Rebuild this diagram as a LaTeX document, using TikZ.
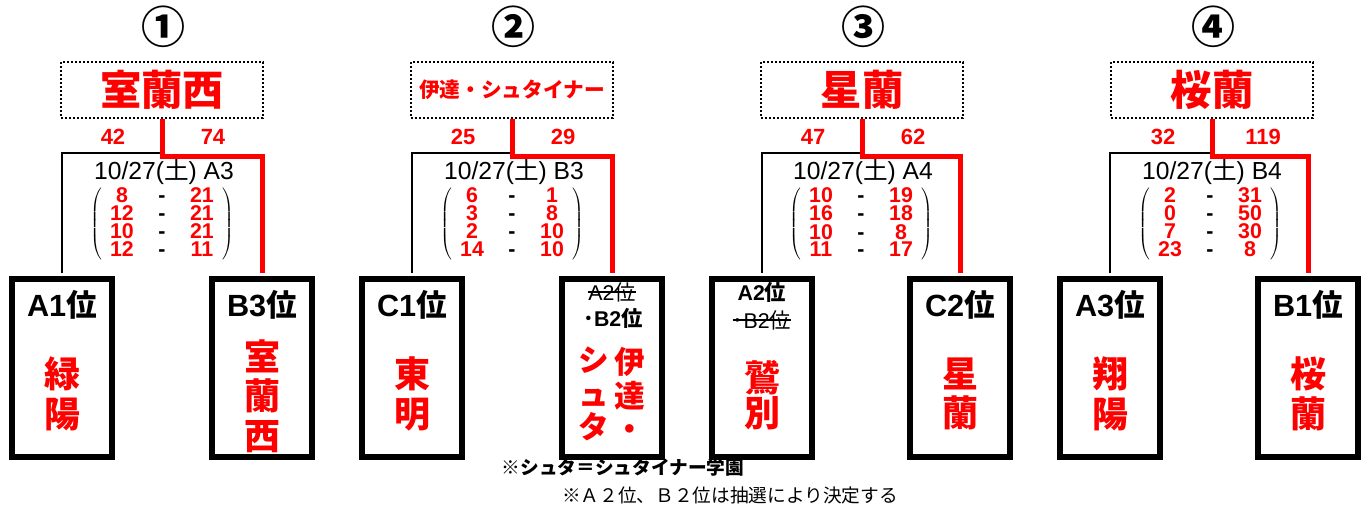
\documentclass[tikz,border=0pt]{standalone}
\usepackage{fontspec}
\usepackage{array}
\setmainfont{Liberation Sans}
\newfontfamily\jpfont{Noto Sans CJK JP}
\definecolor{winred}{RGB}{255,0,0}
\newcolumntype{N}{>{\color{winred}}w{c}{24pt}}
\newcolumntype{H}{w{c}{36pt}}
\newcommand{\games}[1]{$\left(\setlength{\tabcolsep}{0pt}\begin{tabular}{@{\hspace{3pt}}NHN@{\hspace{3pt}}}#1\end{tabular}\right)$}

\begin{document}
\begin{tikzpicture}[x=0.75pt,y=-0.75pt,
    seed/.style={inner sep=0pt,font=\jpfont\bfseries\fontsize{33}{33}\selectfont},
    champ/.style={rectangle,draw=black,line width=1.6pt,dash pattern=on 1.5pt off 1.5pt,minimum width=151.5pt,minimum height=42pt,inner sep=0pt,text=winred,font=\jpfont\bfseries\fontsize{31}{31}\selectfont},
    tally/.style={inner sep=0pt,text=winred,font=\bfseries\fontsize{16.5}{16.5}\selectfont},
    datelabel/.style={inner sep=0pt,font=\fontsize{18.5}{18.5}\selectfont},
    setscores/.style={inner sep=0pt,font=\bfseries\fontsize{16}{8}\selectfont},
    team/.style={rectangle,draw=black,line width=4.5pt,minimum width=75pt,minimum height=133.5pt,inner sep=0pt},
    placelabel/.style={inner sep=0pt,font=\bfseries\fontsize{23}{23}\selectfont},
    placethin/.style={inner sep=0pt,font=\fontsize{16}{16}\selectfont},
    placebold/.style={inner sep=0pt,font=\bfseries\fontsize{16}{16}\selectfont},
    schoolname/.style={inner sep=0pt,align=center,text=winred,font=\jpfont\bfseries\fontsize{27}{29.5}\selectfont},
    win/.style={draw=winred,line width=3.75pt,shorten >=2.2pt},
    lose/.style={draw=black,line width=2pt,shorten <=2.2pt},
    strikeline/.style={draw=black,line width=0.9pt},
    remark/.style={inner sep=0pt,font=\jpfont\fontsize{14}{14}\selectfont}]

      \useasboundingbox (0,0) rectangle (1366,506);

      \node[seed] (s1) at (163,27) {①};
      \node[champ] (c1) at (162,90) {室蘭西};
      \node[tally] (p1l) at (113,137) {42};
      \node[tally] (p1r) at (213,137) {74};
      \node[datelabel] (d1) at (164,172) {10/27({\jpfont 土}) A3};
      \node[setscores] (g1) at (162,224) {\games{8&-&21\\12&-&21\\10&-&21\\12&-&11}};
      \node[team] (t1l) at (62,368) {};
      \node[placelabel] (r1l) at (62,305) {A1{\jpfont 位}};
      \node[schoolname] (n1l) at (62,394) {緑\\陽};
      \node[team] (t1r) at (262,368) {};
      \node[placelabel] (r1r) at (262,305) {B3{\jpfont 位}};
      \node[schoolname] (n1r) at (262,396) {室\\蘭\\西};
      \coordinate (j1) at (162,153);

      \draw[lose] (t1l.north) |- (j1);
      \draw[win] (c1.south) -- ++(0,37) -| (t1r.north);

      \node[seed] (s2) at (513,27) {②};
      \node[champ,font=\jpfont\bfseries\fontsize{15.5}{15.5}\selectfont] (c2) at (512,90) {伊達・シュタイナー};
      \node[tally] (p2l) at (463,137) {25};
      \node[tally] (p2r) at (563,137) {29};
      \node[datelabel] (d2) at (514,172) {10/27({\jpfont 土}) B3};
      \node[setscores] (g2) at (512,224) {\games{6&-&1\\3&-&8\\2&-&10\\14&-&10}};
      \node[team] (t2l) at (412,368) {};
      \node[placelabel] (r2l) at (412,305) {C1{\jpfont 位}};
      \node[schoolname] (n2l) at (412,394) {東\\明};
      \node[team] (t2r) at (612,368) {};
      \node[placethin] (r2a) at (612,292) {A2{\jpfont 位}};
      \node[placebold] (r2b) at (613,318) {{\jpfont ･}B2{\jpfont 位}};
      \node[schoolname,font=\jpfont\bfseries\fontsize{23}{25}\selectfont] (n2a) at (630,394) {伊\\達\\・};
      \node[schoolname,font=\jpfont\bfseries\fontsize{23}{25}\selectfont] (n2b) at (594,394) {シ\\ュ\\タ};
      \coordinate (j2) at (512,153);

      \draw[strikeline] (r2a.west) -- (r2a.east);
      \draw[lose] (t2l.north) |- (j2);
      \draw[win] (c2.south) -- ++(0,37) -| (t2r.north);

      \node[seed] (s3) at (863,27) {③};
      \node[champ] (c3) at (862,90) {星蘭};
      \node[tally] (p3l) at (813,137) {47};
      \node[tally] (p3r) at (913,137) {62};
      \node[datelabel] (d3) at (863,172) {10/27({\jpfont 土}) A4};
      \node[setscores] (g3) at (861,224) {\games{10&-&19\\16&-&18\\10&-&8\\11&-&17}};
      \node[team] (t3l) at (762,368) {};
      \node[placebold] (r3a) at (762,292) {A2{\jpfont 位}};
      \node[placethin] (r3b) at (762,320) {{\jpfont ･}B2{\jpfont 位}};
      \node[schoolname,font=\jpfont\bfseries\fontsize{27}{26.5}\selectfont] (n3l) at (762,395) {鷲\\別};
      \node[team] (t3r) at (960,368) {};
      \node[placelabel] (r3r) at (960,305) {C2{\jpfont 位}};
      \node[schoolname] (n3r) at (960,394) {星\\蘭};
      \coordinate (j3) at (862,153);

      \draw[strikeline] (r3b.west) -- (r3b.east);
      \draw[lose] (t3l.north) |- (j3);
      \draw[win] (c3.south) -- ++(0,37) -| (t3r.north);

      \node[seed] (s4) at (1213,27) {④};
      \node[champ] (c4) at (1212,90) {桜蘭};
      \node[tally] (p4l) at (1163,137) {32};
      \node[tally] (p4r) at (1263,137) {119};
      \node[datelabel] (d4) at (1212,172) {10/27({\jpfont 土}) B4};
      \node[setscores] (g4) at (1210,224) {\games{2&-&31\\0&-&50\\7&-&30\\23&-&8}};
      \node[team] (t4l) at (1110,368) {};
      \node[placelabel] (r4l) at (1110,305) {A3{\jpfont 位}};
      \node[schoolname] (n4l) at (1110,394) {翔\\陽};
      \node[team] (t4r) at (1308,368) {};
      \node[placelabel] (r4r) at (1308,305) {B1{\jpfont 位}};
      \node[schoolname] (n4r) at (1308,394) {桜\\蘭};
      \coordinate (j4) at (1212,153);

      \draw[lose] (t4l.north) |- (j4);
      \draw[win] (c4.south) -- ++(0,37) -| (t4r.north);

      \node[remark,font=\jpfont\bfseries\fontsize{14}{14}\selectfont] (f1) at (623,467) {※シュタ＝シュタイナー学園};
      \node[remark] (f2) at (730,495) {※Ａ２位、Ｂ２位は抽選により決定する};

    \end{tikzpicture}
\end{document}
